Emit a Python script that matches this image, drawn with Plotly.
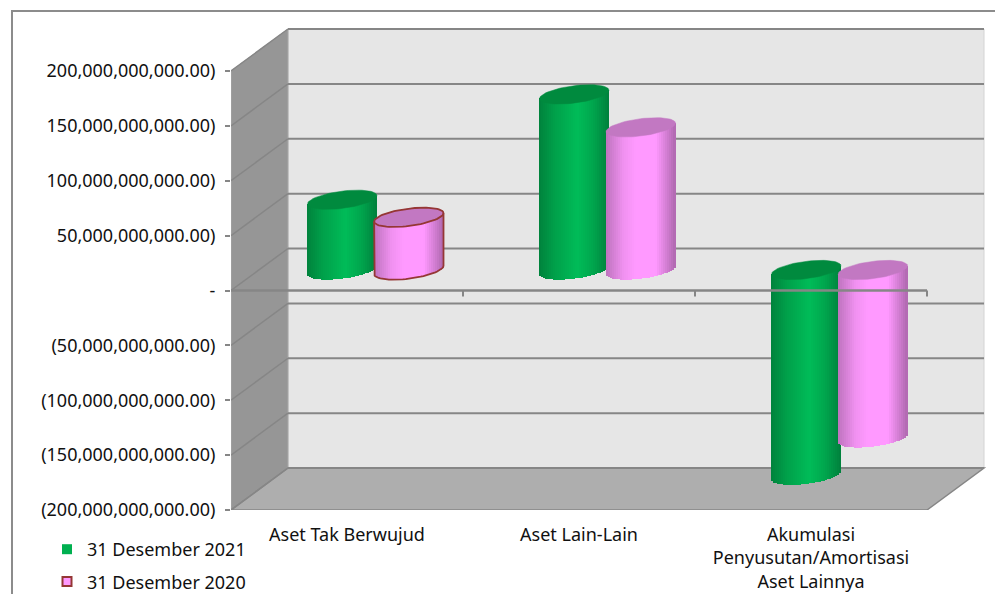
import numpy as np
import plotly.graph_objects as go

categories = ["Aset Tak Berwujud", "Aset Lain-Lain", "Akumulasi<br>Penyusutan/Amortisasi<br>Aset Lainnya"]
series_2021 = [64e9, 160e9, -187e9]
series_2020 = [48e9, 130e9, -153e9]
name_2021 = "31 Desember 2021"
name_2020 = "31 Desember 2020"
tick_values = [200e9, 150e9, 100e9, 50e9, 0, -50e9, -100e9, -150e9, -200e9]
tick_labels = ["200,000,000,000.00)", "150,000,000,000.00)", "100,000,000,000.00)", "50,000,000,000.00)", "-",
               "(50,000,000,000.00)", "(100,000,000,000.00)", "(150,000,000,000.00)", "(200,000,000,000.00)"]

W, H = 995, 594
ML, MB = 231, 84
LEGEND_TOP = 531
PX_CAT = 232.0
PX_VAL = 439.0 / 400e9
FONT = "Noto Sans"
FS = 18
TXT = "#111111"
GRID = "#868686"

def dx(px):
    return px / PX_CAT
def dy(px):
    return px / PX_VAL

x_lo = -0.5
x_hi = x_lo + (W - ML) / PX_CAT
y_lo = -200e9
y_hi = y_lo + (H - MB) / PX_VAL

DEPTH_X, DEPTH_Y = dx(57), dy(42)
MID_X, MID_Y = DEPTH_X / 2, dy(20.5)
HALF = dx(34.7)
SHIFT = dx(33.3)
RY, TILT = dy(8.7), dy(4.2)
N = 35

shapes = []
def poly(points, fill, line=None, lw=0, layer="below"):
    p = "M " + " L ".join(f"{a},{b}" for a, b in points) + " Z"
    shapes.append(dict(type="path", xref="x", yref="y", path=p, fillcolor=fill,
                       line=dict(color=line or fill, width=lw), layer=layer))
def seg(a, b, c, d, color=GRID, lw=2, layer="below"):
    shapes.append(dict(type="line", xref="x", yref="y", x0=a, y0=b, x1=c, y1=d,
                       line=dict(color=color, width=lw), layer=layer))

xl, xr = x_lo, x_lo + 3
yb, yt = min(tick_values), max(tick_values)
poly([(xl + DEPTH_X, yb + DEPTH_Y), (xr + DEPTH_X, yb + DEPTH_Y), (xr + DEPTH_X, yt + DEPTH_Y), (xl + DEPTH_X, yt + DEPTH_Y)], "#E6E6E6", "#D4D4D4", 1)
poly([(xl, yb), (xl + DEPTH_X, yb + DEPTH_Y), (xl + DEPTH_X, yt + DEPTH_Y), (xl, yt)], "#969696", "#A8A8A8", 1)
poly([(xl, yb), (xl + DEPTH_X, yb + DEPTH_Y), (xr + DEPTH_X, yb + DEPTH_Y), (xr, yb)], "#AEAEAE", GRID, 1.5)
for v in tick_values:
    seg(xl + DEPTH_X, v + DEPTH_Y, xr + DEPTH_X, v + DEPTH_Y)
    seg(xl, v, xl + DEPTH_X, v + DEPTH_Y, "#868686", 1.5)

seg(xl, 0, xr, 0, GRID, 2.5, "above")
for k in range(1, 4):
    seg(xl + k, 0, xl + k, dy(-6), GRID, 2, "above")

# frame
fx = (12 - ML) / (W - ML)
ftop = 1 - 11 / (H - MB)
fbot = -MB / (H - MB)
shapes.append(dict(type="path", xref="paper", yref="paper",
                   path=f"M {fx},{fbot} L {fx},{ftop} L 1,{ftop}",
                   line=dict(color="#8C8C8C", width=2), layer="below"))

def ramp(stops, t):
    ts = [s[0] for s in stops]
    return "rgb(" + ",".join(str(int(round(np.interp(t, ts, [s[1][i] for s in stops])))) for i in range(3)) + ")"

green_stops = [(-1, (0, 130, 60)), (-0.55, (0, 160, 74)), (0.1, (0, 188, 88)), (0.55, (0, 165, 77)), (1, (0, 128, 60))]
pink_stops = [(-1, (190, 115, 190)), (-0.5, (240, 145, 240)), (-0.15, (255, 153, 255)), (0.45, (255, 153, 255)), (1, (176, 105, 176))]

fig = go.Figure()
ts = (np.arange(N) + 0.5) / N * 2 - 1
strip = 2 * HALF / N

def add_cylinder(values, side, stops, cap):
    centers = np.arange(3) + MID_X + side
    hi = np.maximum(values, 0) + MID_Y
    lo = np.minimum(values, 0) + MID_Y
    for t in ts:
        top = hi + TILT * t
        bottom = lo + TILT * t - RY * np.sqrt(1 - t * t)
        fig.add_trace(go.Bar(x=list(range(3)), y=top - bottom, base=bottom,
                             offset=MID_X + side + t * HALF - strip * 0.6, width=strip * 1.2,
                             marker=dict(color=ramp(stops, t), line=dict(width=0)),
                             showlegend=False, hoverinfo="skip"))
    a = np.linspace(0, 2 * np.pi, 73)
    for c, h in zip(centers, hi):
        fig.add_trace(go.Scatter(x=c + HALF * np.cos(a), y=h + TILT * np.cos(a) + RY * np.sin(a),
                                 mode="lines", fill="toself", fillcolor=cap, line=dict(color=cap, width=0.5),
                                 showlegend=False, hoverinfo="skip"))

v21 = np.array(series_2021)
v20 = np.array(series_2020)
add_cylinder(v21, -SHIFT, green_stops, "#008A3E")
add_cylinder(v20, SHIFT, pink_stops, "#C278C2")

# outlined first pink cylinder
OUT = "#953735"
c = 0 + MID_X + SHIFT
h = v20[0] + MID_Y
b = MID_Y
a = np.linspace(0, 2 * np.pi, 73)
fig.add_trace(go.Scatter(x=c + HALF * np.cos(a), y=h + TILT * np.cos(a) + RY * np.sin(a), mode="lines",
                         line=dict(color=OUT, width=1.8), showlegend=False, hoverinfo="skip"))
a2 = np.linspace(np.pi, 2 * np.pi, 37)
xs = np.concatenate([[c - HALF], c + HALF * np.cos(a2), [c + HALF]])
ys = np.concatenate([[h - TILT], b + TILT * np.cos(a2) + RY * np.sin(a2), [h + TILT]])
fig.add_trace(go.Scatter(x=xs, y=ys, mode="lines", line=dict(color=OUT, width=1.8), showlegend=False, hoverinfo="skip"))

# legend entries
fig.add_trace(go.Scatter(x=[None], y=[None], mode="markers", name=name_2021, legendgroup="a",
                         marker=dict(symbol="square", size=10, color="#00B050")))
fig.add_trace(go.Scatter(x=[None], y=[None], mode="markers", name=name_2020, legendgroup="b",
                         marker=dict(symbol="square", size=9, color="#FF99FF", line=dict(color=OUT, width=2))))

fig.update_layout(
    width=W, height=H, autosize=False,
    margin=dict(l=ML, r=0, t=0, b=MB, pad=0),
    paper_bgcolor="white", plot_bgcolor="white",
    barmode="overlay", bargap=0,
    font=dict(family=FONT, size=FS, color=TXT),
    shapes=shapes,
    showlegend=True,
    legend=dict(xref="paper", yref="container", x=(47 - ML) / (W - ML), y=1 - LEGEND_TOP / H, xanchor="left", yanchor="top",
                font=dict(family=FONT, size=FS, color=TXT), tracegroupgap=6,
                bgcolor="rgba(0,0,0,0)", borderwidth=0),
    xaxis=dict(range=[x_lo, x_hi], tickmode="array", tickvals=[0, 1, 2], ticktext=categories, automargin=False,
               showgrid=False, zeroline=False, showline=False, ticks="", ticklabelstandoff=12,
               tickfont=dict(family=FONT, size=FS, color=TXT)),
    yaxis=dict(range=[y_lo, y_hi], tickmode="array", tickvals=tick_values, ticktext=tick_labels, automargin=False,
               showgrid=False, zeroline=False, showline=False, ticks="outside", ticklen=5, tickwidth=1.5,
               tickcolor=GRID, ticklabelstandoff=6,
               tickfont=dict(family=FONT, size=FS, color=TXT)),
)
fig.write_html("out.html", config={"displayModeBar": False},
               post_script="document.body.style.margin='0';document.documentElement.style.overflow='hidden';")
